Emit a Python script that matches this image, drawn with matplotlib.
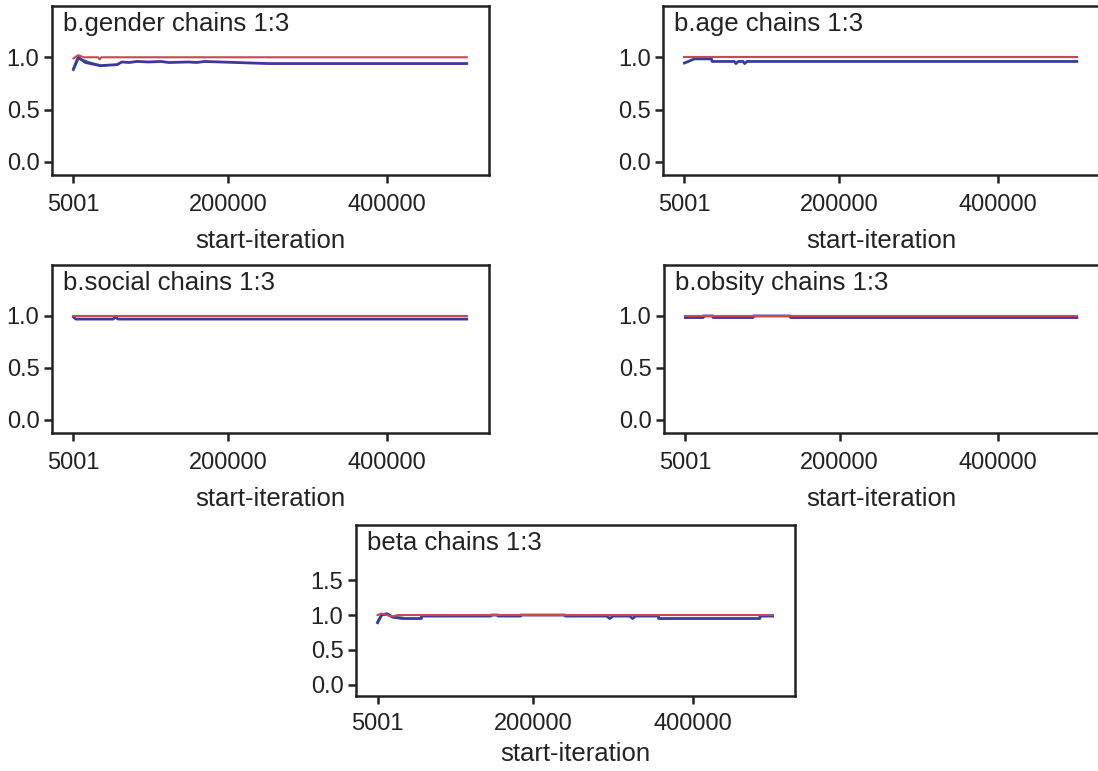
import matplotlib
matplotlib.use("Agg")
import matplotlib.pyplot as plt

plt.rcParams['font.family'] = ['Liberation Sans', 'DejaVu Sans']

RED = '#c8494f'
BLUE = '#3a3a9e'
GREEN = '#1f8a6a'
INK = '#222222'

# --- data ---
titles = ["b.gender chains 1:3", "b.age chains 1:3", "b.social chains 1:3",
          "b.obsity chains 1:3", "beta chains 1:3"]
xticks = [5001, 200000, 400000]
xtick_labels = ["5001", "200000", "400000"]

# b.gender
gender_red_x = [5001, 11000, 18000, 36000, 38000, 40000, 500000]
gender_red_y = [0.99, 1.02, 1.0, 1.0, 0.98, 1.0, 1.0]
gender_grn_x = [5001, 11000, 25000, 39000, 45000]
gender_grn_y = [0.88, 0.99, 0.95, 0.92, 0.92]
gender_blu_x = [5001, 11000, 20000, 39000, 60000, 66000, 75000, 85000, 100000,
                115000, 125000, 150000, 160000, 170000, 250000, 326000, 500000]
gender_blu_y = [0.89, 1.0, 0.95, 0.92, 0.93, 0.955, 0.95, 0.96, 0.955,
                0.96, 0.95, 0.955, 0.95, 0.96, 0.94, 0.94, 0.94]

# b.age
age_red_x = [5001, 500000]
age_red_y = [1.0, 1.0]
age_blu_x = [5001, 10000, 17600, 39000, 40000, 68000, 70000, 73000, 79000, 81000, 84000, 500000]
age_blu_y = [0.945, 0.96, 0.985, 0.985, 0.96, 0.96, 0.94, 0.96, 0.96, 0.94, 0.96, 0.96]

# b.social
social_red_x = [5001, 500000]
social_red_y = [1.0, 1.0]
social_blu_x = [5001, 8000, 55000, 58000, 61000, 500000]
social_blu_y = [0.99, 0.97, 0.97, 0.99, 0.97, 0.97]

# b.obsity
obsity_red_x = [5001, 500000]
obsity_red_y = [1.0, 1.0]
obsity_blu_x = [5001, 27600, 27601, 40200, 40201, 90500, 90501, 138000, 138001, 500000]
obsity_blu_y = [0.985, 0.985, 1.0, 1.0, 0.985, 0.985, 1.0, 1.0, 0.985, 0.985]

# beta
beta_red_x = [5001, 10000, 17000, 24000, 30000, 500000]
beta_red_y = [1.0, 1.02, 1.0, 0.98, 1.0, 1.0]
beta_grn_x = [5001, 10000, 17000, 24000, 36000]
beta_grn_y = [0.9, 1.0, 1.01, 0.97, 0.96]
beta_blu_x = [5001, 10000, 17000, 24000, 36500, 60000, 60001, 147000, 147001, 156000,
              156001, 184000, 184001, 240000, 240001, 292000, 296000, 300000,
              321000, 324500, 328000, 357000, 357001, 484000, 484001, 500000]
beta_blu_y = [0.89, 1.0, 1.02, 0.97, 0.95, 0.95, 0.985, 0.985, 1.0, 1.0,
              0.985, 0.985, 1.0, 1.0, 0.985, 0.985, 0.95, 0.985,
              0.985, 0.95, 0.985, 0.985, 0.95, 0.95, 0.985, 0.985]

panels = [
    (titles[0], gender_red_x, gender_red_y, gender_grn_x, gender_grn_y, gender_blu_x, gender_blu_y),
    (titles[1], age_red_x, age_red_y, None, None, age_blu_x, age_blu_y),
    (titles[2], social_red_x, social_red_y, None, None, social_blu_x, social_blu_y),
    (titles[3], obsity_red_x, obsity_red_y, None, None, obsity_blu_x, obsity_blu_y),
    (titles[4], beta_red_x, beta_red_y, beta_grn_x, beta_grn_y, beta_blu_x, beta_blu_y),
]

W, H = 1098, 771
# left, right, top, bottom in pixels
boxes = [(52, 489, 6, 175), (663, 1099, 6, 175),
         (52, 489, 265, 433), (664, 1099, 265, 433),
         (356, 795, 525, 696)]
ylims = [(-0.125, 1.49)] * 4 + [(-0.16, 2.29)]
yticks = [[0.0, 0.5, 1.0]] * 4 + [[0.0, 0.5, 1.0, 1.5]]
label_pads = [9, 9, 9, 9, 5]

fig = plt.figure(figsize=(W / 100, H / 100), dpi=100)

for i, (title, rx, ry, gx, gy, bx, by) in enumerate(panels):
    l, r, t, b = boxes[i]
    ax = fig.add_axes([l / W, 1 - b / H, (r - l) / W, (b - t) / H])
    if gx is not None:
        ax.plot(gx, gy, color=GREEN, lw=1.8)
    ax.plot(bx, by, color=BLUE, lw=2.0)
    ax.plot(rx, ry, color=RED, lw=1.5)
    ax.set_xlim(-22000, 528000)
    ax.set_ylim(*ylims[i])
    ax.set_xticks(xticks)
    ax.set_xticklabels(xtick_labels)
    ax.set_yticks(yticks[i])
    ax.set_yticklabels(["%.1f" % v for v in yticks[i]])
    ax.tick_params(direction='out', length=6, width=1.8, labelsize=17, colors=INK, pad=3)
    ax.tick_params(axis='x', pad=8 if i < 4 else 6)
    for s in ax.spines.values():
        s.set_linewidth(1.8)
        s.set_color(INK)
    ax.set_xlabel("start-iteration", fontsize=18.5, color=INK, labelpad=label_pads[i])
    ax.text(0.025, 0.965, title, transform=ax.transAxes, ha='left', va='top',
            fontsize=18.5, color=INK)

fig.savefig("out.png", dpi=100)
